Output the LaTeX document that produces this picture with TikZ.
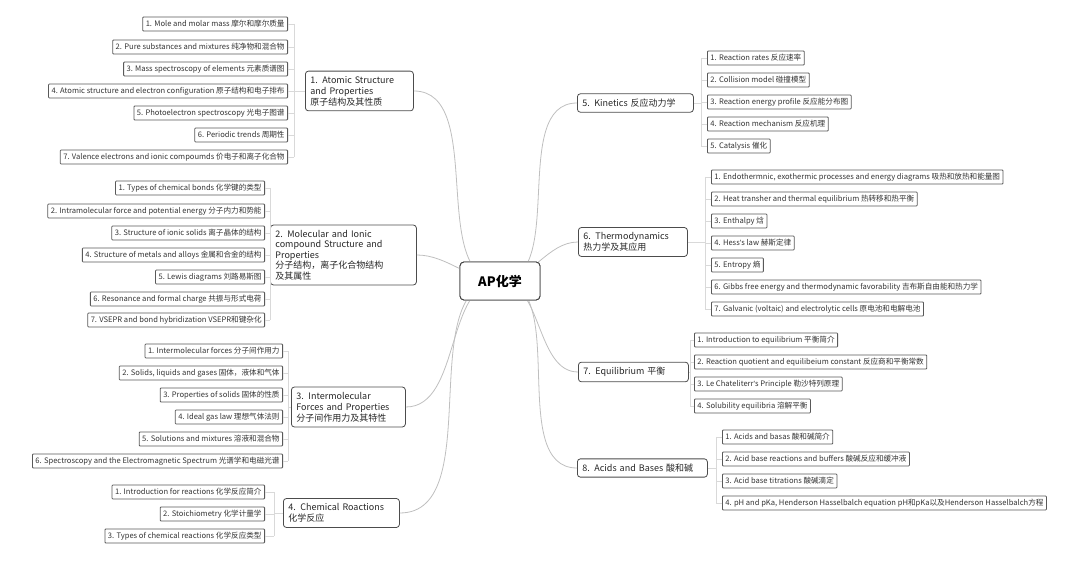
\documentclass[tikz,border=0pt]{standalone}
\usepackage{fontspec}
\setmainfont{Noto Sans CJK SC}
\newfontfamily\lat{Liberation Sans}
\begin{document}
\begin{tikzpicture}[x=1pt,y=-1pt,
 leaf/.style={draw=black!65,line width=0.8pt,rounded corners=0.8pt,inner xsep=3pt,inner ysep=0pt,minimum height=14pt,font=\fontsize{7.6}{8}\selectfont,text=black!80},
 branch/.style={draw=black!70,line width=0.8pt,rounded corners=3pt,inner sep=5pt,align=left,font=\fontsize{9}{11}\selectfont,text=black!85},
 conn/.style={draw=black!25,line width=0.8pt},
 br/.style={draw=black!15,line width=0.8pt}]
\useasboundingbox (0,0) rectangle (1080,561);
\node[draw=black!75,line width=0.9pt,rounded corners=4pt,minimum width=80pt,minimum height=38pt,font=\fontsize{13}{15}\selectfont\bfseries] (c) at (500,281) {AP化学};

% branches
\node[branch,text width=98pt,anchor=west] (b1) at (305,91) {1. Atomic Structure\\and Properties\\原子结构及其性质};
\node[branch,text width=136pt,anchor=west,font=\fontsize{9}{10.5}\selectfont] (b2) at (270,255) {2. Molecular and Ionic\\compound Structure and\\Properties\\分子结构，离子化合物结构\\及其属性};
\node[branch,text width=104pt,anchor=west] (b3) at (291,407) {3. Intermolecular\\Forces and Properties\\分子间作用力及其特性};
\node[branch,text width=106pt,anchor=west] (b4) at (283,513) {4. Chemical Roactions\\化学反应};
\node[branch,text width=106pt,anchor=west] (b5) at (577,103) {5. Kinetics 反应动力学};
\node[branch,text width=99pt,anchor=west] (b6) at (578,242) {6. Thermodynamics\\热力学及其应用};
\node[branch,text width=100pt,anchor=west] (b7) at (578,372) {7. Equilibrium 平衡};
\node[branch,text width=120pt,anchor=west] (b8) at (577,468) {8. Acids and Bases 酸和碱};

\foreach \b in {b1,b2,b3,b4}
  \draw[conn] (c.center) to[out=180,in=0,looseness=0.9] (\b.east);
\foreach \b in {b5,b6,b7,b8}
  \draw[conn] (c.center) to[out=0,in=180,looseness=0.9] (\b.west);
\node[draw=black!75,line width=0.9pt,fill=white,rounded corners=4pt,minimum width=80pt,minimum height=38pt,font=\fontsize{13}{15}\selectfont\bfseries] at (500,281) {AP化学};

% leaves left
\foreach \y/\t [count=\i] in {24/1. Mole and molar mass 摩尔和摩尔质量,47/2. Pure substances and mixtures 纯净物和混合物,69/3. Mass spectroscopy of elements 元素质谱图,91/4. Atomic structure and electron configuration 原子结构和电子排布,113/5. Photoelectron spectroscopy 光电子图谱,135/6. Periodic trends 周期性,157/7. Valence electrons and ionic compoumds 价电子和离子化合物}
 {\node[leaf,anchor=east] (a1-\i) at (288,\y) {\t}; \draw[br] (a1-\i.east) -- ++(6,0);}
\coordinate (k1) at (294,91);
\draw[br] (a1-1.east)++(6,0) -- (294,157); \draw[br] (k1) -- (b1.west);

\foreach \y/\t [count=\i] in {188/1. Types of chemical bonds 化学键的类型,211/2. Intramolecular force and potential energy 分子内力和势能,233/3. Structure of ionic solids 离子晶体的结构,255/4. Structure of metals and alloys 金属和合金的结构,277/5. Lewis diagrams 刘路易斯图,299/6. Resonance and formal charge 共振与形式电荷,320/7. VSEPR and bond hybridization VSEPR和键杂化}
 {\node[leaf,anchor=east] (a2-\i) at (265,\y) {\t}; \draw[br] (a2-\i.east) -- ++(5,0);}
\coordinate (k2) at (270,255);
\draw[br] (a2-1.east)++(5,0) -- (270,320);

\foreach \y/\t [count=\i] in {351/1. Intermolecular forces 分子间作用力,373/{2. Solids, liquids and gases 固体，液体和气体},395/3. Properties of solids 固体的性质,417/4. Ideal gas law 理想气体法则,439/5. Solutions and mixtures 溶液和混合物,461/6. Spectroscopy and the Electromagnetic Spectrum 光谱学和电磁光谱}
 {\node[leaf,anchor=east] (a3-\i) at (283,\y) {\t}; \draw[br] (a3-\i.east) -- ++(5,0);}
\coordinate (k3) at (288,407);
\draw[br] (a3-1.east)++(5,0) -- (288,461); \draw[br] (k3) -- (b3.west);

\foreach \y/\t [count=\i] in {492/1. Introduction for reactions 化学反应简介,514/2. Stoichiometry 化学计量学,536/3. Types of chemical reactions 化学反应类型}
 {\node[leaf,anchor=east] (a4-\i) at (265,\y) {\t}; \draw[br] (a4-\i.east) -- ++(9,0);}
\coordinate (k4) at (274,513);
\draw[br] (a4-1.east)++(9,0) -- (274,536); \draw[br] (k4) -- (b4.west);

% leaves right
\foreach \y/\t [count=\i] in {58/1. Reaction rates 反应速率,80/2. Collision model 碰撞模型,102/3. Reaction energy profile 反应能分布图,124/4. Reaction mechanism 反应机理,146/5. Catalysis 催化}
 {\node[leaf,anchor=west] (c5-\i) at (707,\y) {\t}; \draw[br] (c5-\i.west) -- ++(-6,0);}
\coordinate (k5) at (701,103);
\draw[br] (c5-1.west)++(-6,0) -- (701,146); \draw[br] (k5) -- (b5.east);

\foreach \y/\t [count=\i] in {177/{1. Endothermnic, exothermic processes and energy diagrams 吸热和放热和能量图},199/2. Heat transher and thermal equilibrium 热转移和热平衡,221/3. Enthalpy 焓,243/4. Hess{\lat'}s law 赫斯定律,265/5. Entropy 熵,287/6. Gibbs free energy and thermodynamic favorability 吉布斯自由能和热力学,309/7. Galvanic (voltaic) and electrolytic cells 原电池和电解电池}
 {\node[leaf,anchor=west] (c6-\i) at (711,\y) {\t}; \draw[br] (c6-\i.west) -- ++(-6,0);}
\coordinate (k6) at (705,242);
\draw[br] (c6-1.west)++(-6,0) -- (705,309); \draw[br] (k6) -- (b6.east);

\foreach \y/\t [count=\i] in {340/1. Introduction to equilibrium 平衡简介,362/2. Reaction quotient and equilibeium constant 反应商和平衡常数,384/3. Le Chateliterr{\lat'}s Principle 勒沙特列原理,406/4. Solubility equilibria 溶解平衡}
 {\node[leaf,anchor=west] (c7-\i) at (694,\y) {\t}; \draw[br] (c7-\i.west) -- ++(-4,0);}
\coordinate (k7) at (690,372);
\draw[br] (c7-1.west)++(-4,0) -- (690,406); \draw[br] (k7) -- (b7.east);

\foreach \y/\t [count=\i] in {437/1. Acids and basas 酸和碱简介,459/2. Acid base reactions and buffers 酸碱反应和缓冲液,481/3. Acid base titrations 酸碱滴定,503/{4. pH and pKa, Henderson Hasselbalch equation pH和pKa以及Henderson Hasselbalch方程}}
 {\node[leaf,anchor=west] (c8-\i) at (722,\y) {\t}; \draw[br] (c8-\i.west) -- ++(-6,0);}
\coordinate (k8) at (716,468);
\draw[br] (c8-1.west)++(-6,0) -- (716,503); \draw[br] (k8) -- (b8.east);
\end{tikzpicture}
\end{document}
